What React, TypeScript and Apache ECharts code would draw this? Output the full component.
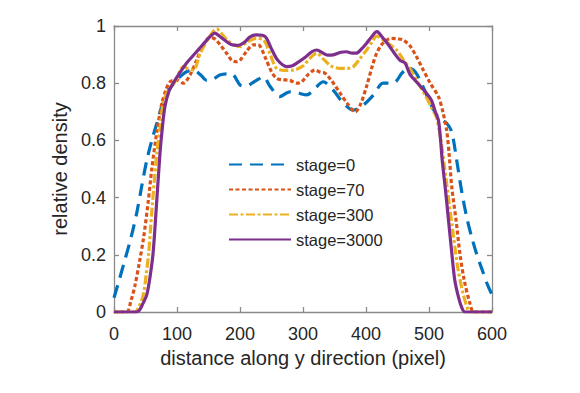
import React, { useEffect, useRef } from "react";
import * as echarts from "echarts";

const seriesNames = ["stage=0", "stage=70", "stage=300", "stage=3000"];
const seriesColors = ["#0072BD", "#D95319", "#EDB120", "#7E2F8E"];

const xTicks = [0, 100, 200, 300, 400, 500, 600];
const yTicks = [0, 0.2, 0.4, 0.6, 0.8, 1];

const stage0: number[][] = [
  [0, 0.05], [8, 0.11], [17, 0.18], [27, 0.26], [36, 0.345], [44, 0.44], [52, 0.53], [60, 0.6],
  [68, 0.66], [76, 0.72], [84, 0.765], [95, 0.8], [105, 0.823], [115, 0.84], [126, 0.845],
  [137, 0.83], [147, 0.81], [158, 0.815], [168, 0.829], [180, 0.833], [189, 0.83], [200, 0.794],
  [210, 0.79], [219, 0.8], [230, 0.815], [237, 0.823], [248, 0.788], [263, 0.753], [279, 0.77],
  [293, 0.765], [306, 0.759], [319, 0.782], [332, 0.805], [348, 0.776], [364, 0.73], [380, 0.706],
  [396, 0.724], [412, 0.759], [427, 0.8], [437, 0.8], [447, 0.805], [457, 0.835], [467, 0.853],
  [478, 0.84], [490, 0.79], [502, 0.73], [515, 0.68], [528, 0.66], [536, 0.63], [544, 0.53],
  [552, 0.42], [560, 0.33], [568, 0.26], [576, 0.2], [584, 0.15], [592, 0.1], [600, 0.06],
];

const stage70: number[][] = [
  [0, 0], [20, 0], [27, 0.04], [33, 0.09], [40, 0.17], [47, 0.26], [54, 0.38], [60, 0.5],
  [68, 0.63], [76, 0.73], [83, 0.78], [89, 0.805], [95, 0.81], [101, 0.81], [110, 0.8],
  [121, 0.83], [131, 0.88], [141, 0.93], [152, 0.96], [160, 0.955], [170, 0.93], [179, 0.904],
  [187, 0.88], [195, 0.875], [200, 0.88], [210, 0.91], [221, 0.934], [229, 0.934], [240, 0.89],
  [250, 0.84], [258, 0.817], [268, 0.812], [279, 0.81], [290, 0.8], [298, 0.805], [308, 0.83],
  [319, 0.846], [328, 0.838], [335, 0.835], [345, 0.81], [359, 0.765], [370, 0.73], [383, 0.7],
  [392, 0.73], [401, 0.79], [410, 0.86], [417, 0.905], [425, 0.935], [433, 0.951], [440, 0.957],
  [450, 0.955], [459, 0.951], [470, 0.93], [480, 0.893], [490, 0.85], [502, 0.8], [515, 0.753],
  [522, 0.7], [528, 0.636], [532, 0.55], [536, 0.44], [543, 0.32], [549, 0.205], [556, 0.11],
  [565, 0.03], [571, 0], [600, 0],
];

const stage300: number[][] = [
  [0, 0], [33, 0], [40, 0.02], [47, 0.065], [51, 0.13], [55, 0.205], [61, 0.38], [68, 0.555],
  [74, 0.66], [79, 0.74], [88, 0.78], [97, 0.805], [104, 0.84], [110, 0.858], [118, 0.85],
  [126, 0.846], [137, 0.905], [148, 0.95], [157, 0.98], [163, 0.99], [170, 0.975], [180, 0.95],
  [190, 0.935], [200, 0.928], [212, 0.945], [226, 0.957], [238, 0.95], [248, 0.9], [258, 0.852],
  [270, 0.845], [285, 0.846], [300, 0.86], [310, 0.885], [322, 0.905], [332, 0.885], [345, 0.86],
  [359, 0.852], [370, 0.852], [380, 0.858], [390, 0.885], [401, 0.916], [410, 0.945], [417, 0.965],
  [425, 0.955], [435, 0.94], [449, 0.915], [460, 0.88], [470, 0.85], [483, 0.8], [496, 0.75],
  [505, 0.71], [512, 0.68], [519, 0.6], [525, 0.5], [532, 0.38], [539, 0.263], [546, 0.15],
  [554, 0.065], [560, 0.02], [565, 0], [600, 0],
];

const stage3000: number[][] = [
  [0, 0], [35, 0], [40, 0.005], [46, 0.03], [52, 0.06], [57, 0.12], [62, 0.205], [67, 0.36],
  [73, 0.555], [77, 0.65], [81, 0.72], [87, 0.77], [94, 0.8], [104, 0.835], [115, 0.87],
  [125, 0.895], [135, 0.92], [147, 0.95], [155, 0.968], [160, 0.975], [167, 0.965], [176, 0.95],
  [186, 0.935], [195, 0.932], [200, 0.934], [208, 0.945], [216, 0.962], [226, 0.969], [240, 0.963],
  [250, 0.92], [260, 0.88], [274, 0.858], [282, 0.86], [290, 0.87], [303, 0.89], [314, 0.91],
  [322, 0.916], [332, 0.905], [340, 0.898], [348, 0.899], [360, 0.908], [369, 0.91], [378, 0.905],
  [385, 0.905], [393, 0.92], [401, 0.94], [410, 0.965], [417, 0.98], [420, 0.977], [428, 0.955],
  [437, 0.93], [445, 0.905], [454, 0.88], [462, 0.87], [470, 0.83], [478, 0.81], [486, 0.79],
  [496, 0.765], [504, 0.74], [510, 0.7], [515, 0.67], [518, 0.61], [521, 0.53], [526, 0.43],
  [531, 0.32], [536, 0.21], [541, 0.11], [547, 0.05], [552, 0.015], [557, 0], [600, 0],
];

const seriesData = [stage0, stage70, stage300, stage3000];
const dashTypes: any[] = [[13, 8], [4, 2.5], [9, 2.5, 3, 2.5], "solid"];

const FONT = "'Liberation Sans', Arial, Helvetica, sans-serif";
const AXIS_COLOR = "#8a8a8a";
const TEXT_COLOR = "#262626";

export default function App() {
  const ref = useRef<HTMLDivElement>(null);
  useEffect(() => {
    if (!ref.current) return;
    const chart = echarts.init(ref.current, undefined, { renderer: "svg" });
    const baseX = {
      type: "value",
      min: xTicks[0],
      max: xTicks[xTicks.length - 1],
      interval: 100,
      splitLine: { show: false },
      axisLine: { show: true, onZero: false, lineStyle: { color: AXIS_COLOR, width: 1.3 } },
      axisTick: { show: true, inside: true, length: 5, lineStyle: { color: AXIS_COLOR, width: 1.3 } },
    };
    const baseY = {
      type: "value",
      min: yTicks[0],
      max: yTicks[yTicks.length - 1],
      interval: 0.2,
      splitLine: { show: false },
      axisLine: { show: true, onZero: false, lineStyle: { color: AXIS_COLOR, width: 1.3 } },
      axisTick: { show: true, inside: true, length: 5, lineStyle: { color: AXIS_COLOR, width: 1.3 } },
    };
    chart.setOption({
      animation: false,
      backgroundColor: "#ffffff",
      grid: { left: 114, right: 88, top: 26, bottom: 81, containLabel: false },
      legend: {
        orient: "vertical",
        left: 228,
        top: 156,
        padding: 0,
        itemWidth: 62,
        itemHeight: 14,
        itemGap: 8,
        data: seriesNames,
        itemStyle: { opacity: 0 },
        textStyle: { fontFamily: FONT, fontSize: 16.5, color: TEXT_COLOR, lineHeight: 14 },
      },
      xAxis: [
        {
          ...baseX,
          position: "bottom",
          name: "distance along y direction (pixel)",
          nameLocation: "middle",
          nameGap: 34,
          nameTextStyle: { fontFamily: FONT, fontSize: 20, color: TEXT_COLOR },
          axisLabel: { show: true, margin: 13, fontFamily: FONT, fontSize: 18, color: TEXT_COLOR },
        },
        { ...baseX, position: "top", axisLabel: { show: false } },
      ],
      yAxis: [
        {
          ...baseY,
          position: "left",
          name: "relative density",
          nameLocation: "middle",
          nameGap: 38,
          nameTextStyle: { fontFamily: FONT, fontSize: 20, color: TEXT_COLOR },
          axisLabel: {
            show: true,
            margin: 8,
            fontFamily: FONT,
            fontSize: 18,
            color: TEXT_COLOR,
            formatter: (v: number) => String(Math.round(v * 10) / 10),
          },
        },
        { ...baseY, position: "right", axisLabel: { show: false } },
      ],
      series: seriesNames.map((name, i) => ({
        name,
        type: "line",
        xAxisIndex: 0,
        yAxisIndex: 0,
        data: seriesData[i],
        symbol: "none",
        smooth: 0.3,
        clip: true,
        color: seriesColors[i],
        lineStyle: { color: seriesColors[i], width: 3.2, type: dashTypes[i] },
        z: 2 + i,
      })),
    });
    return () => chart.dispose();
  }, []);
  return (
    <div
      ref={ref}
      style={{ position: "fixed", left: 0, top: 0, width: 580, height: 393, background: "#fff" }}
    />
  );
}
